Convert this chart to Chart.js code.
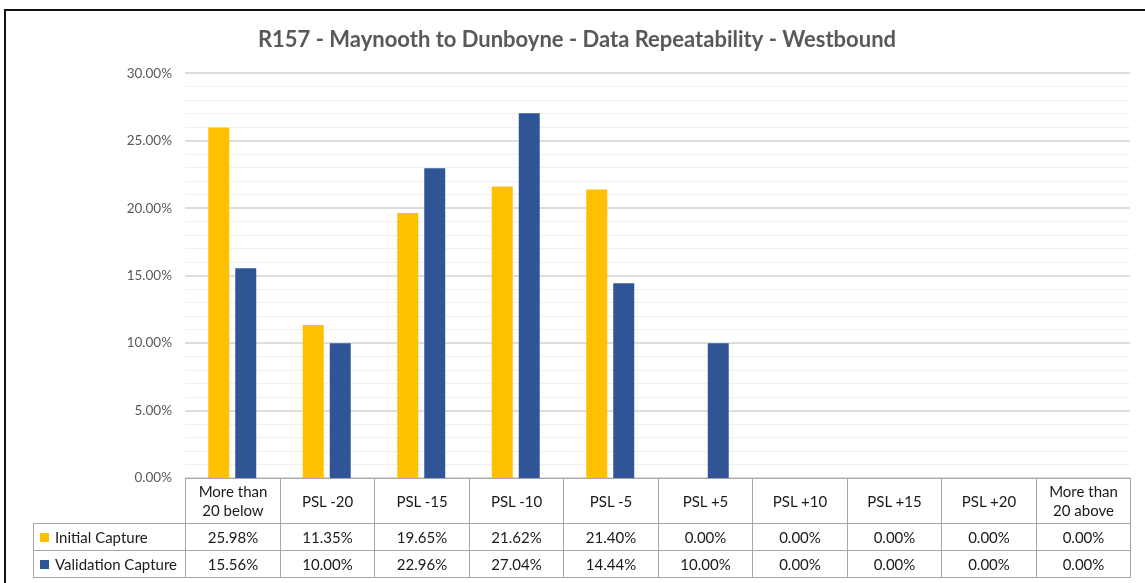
<!DOCTYPE html>
<html>
<head>
<meta charset="utf-8">
<script src="https://cdn.jsdelivr.net/npm/chart.js@4/dist/chart.umd.min.js"></script>
<style>
  html, body { margin: 0; padding: 0; background: #fff; width: 1145px; height: 583px; overflow: hidden; }
  #c { position: absolute; left: 0; top: 0; }
  #frame { position: absolute; left: 4px; top: 9px; width: 1300px; height: 800px;
           border-left: 2px solid #111; border-top: 2px solid #111; pointer-events: none; }
  #tbl { position: absolute; left: 0; top: 0; font-family: Lato, "Open Sans", sans-serif; font-size: 15px; color: #1a1a1a; }
  .cell { position: absolute; box-sizing: border-box; border: 1px solid #a6a6a6;
          display: flex; align-items: center; justify-content: center; text-align: center; line-height: 19px; }
  .lab { justify-content: flex-start; padding-left: 6px; }
  .key { width: 9px; height: 9px; margin-right: 6px; flex: none; }
</style>
</head>
<body>
<canvas id="c" width="1145" height="583"></canvas>
<div id="tbl"></div>
<div id="frame"></div>
<script>
// Categories of speed difference relative to the posted speed limit
const categories = [
  ["More than", "20 below"], "PSL -20", "PSL -15", "PSL -10", "PSL -5",
  "PSL +5", "PSL +10", "PSL +15", "PSL +20", ["More than", "20 above"]
];
// Share of records per category (percent)
const initialCapture    = [25.98, 11.35, 19.65, 21.62, 21.40, 0.00, 0.00, 0.00, 0.00, 0.00];
const validationCapture = [15.56, 10.00, 22.96, 27.04, 14.44, 10.00, 0.00, 0.00, 0.00, 0.00];
const seriesNames  = ["Initial Capture", "Validation Capture"];
const seriesColors = ["#FFC000", "#2F5597"];
const yTickMax = 30;
const yMajorStep = 5;

const FONT = 'Lato, "Open Sans", sans-serif';

// Data table under the plot, aligned to the category columns
const dataTable = {
  id: 'dataTable',
  afterRender(chart) {
    if (chart._tableDone) return;
    chart._tableDone = true;
    const host = document.getElementById('tbl');
    const area = chart.chartArea;
    const x = chart.scales.x;
    const colW = area.width / categories.length;
    const headH = 45, rowH = 27;
    const labelLeft = 33;
    const top = area.bottom;
    const mk = (l, t, w, h, html, cls) => {
      const d = document.createElement('div');
      d.className = 'cell' + (cls ? ' ' + cls : '');
      d.style.left = Math.round(l) + 'px';
      d.style.top = Math.round(t) + 'px';
      d.style.width = (Math.round(l + w) - Math.round(l) + 1) + 'px';
      d.style.height = (Math.round(t + h) - Math.round(t) + 1) + 'px';
      d.innerHTML = html;
      host.appendChild(d);
    };
    categories.forEach((c, i) => {
      const cx = x.getPixelForValue(i);
      const txt = Array.isArray(c) ? c.join('<br>') : c;
      mk(cx - colW / 2, top, colW, headH, txt);
    });
    const series = [initialCapture, validationCapture];
    series.forEach((vals, r) => {
      const y = top + headH + r * rowH;
      mk(labelLeft, y, area.left - labelLeft, rowH,
        '<span class="key" style="background:' + seriesColors[r] + '"></span>' + seriesNames[r], 'lab');
      vals.forEach((v, i) => {
        const cx = x.getPixelForValue(i);
        mk(cx - colW / 2, y, colW, rowH, v.toFixed(2) + '%');
      });
    });
  }
};

new Chart(document.getElementById('c'), {
  type: 'bar',
  data: {
    labels: categories,
    datasets: [
      { label: seriesNames[0], data: initialCapture, backgroundColor: seriesColors[0],
        categoryPercentage: 0.571, barPercentage: 0.778 },
      { label: seriesNames[1], data: validationCapture, backgroundColor: seriesColors[1],
        categoryPercentage: 0.571, barPercentage: 0.778 }
    ]
  },
  options: {
    responsive: false,
    animation: false,
    layout: { padding: { left: 10, right: 1, top: 0, bottom: 105 } },
    plugins: {
      legend: { display: false },
      tooltip: { enabled: false },
      title: {
        display: true,
        text: 'R157 - Maynooth to Dunboyne - Data Repeatability - Westbound',
        color: '#595959',
        font: { family: FONT, size: 22, weight: 'bold' },
        padding: { top: 27, bottom: 20 }
      }
    },
    scales: {
      x: { display: false },
      // blank margin on the right of the plot
      yRight: {
        position: 'right',
        display: true,
        grid: { display: false },
        border: { display: false },
        ticks: { display: false },
        afterFit(scale) { scale.width = 14; }
      },
      y: {
        min: 0, max: yTickMax,
        border: { display: false },
        afterFit(scale) { scale.width = 175; },
        grid: {
          drawTicks: false,
          color: ctx => (ctx.tick && ctx.tick.value % yMajorStep === 0) ? '#dedede' : '#f0f0f0',
          lineWidth: ctx => (ctx.tick && ctx.tick.value % yMajorStep === 0) ? 2 : 1
        },
        ticks: {
          stepSize: 1,
          autoSkip: false,
          padding: 13,
          color: '#595959',
          font: { family: FONT, size: 13.5 },
          callback: v => (v % yMajorStep === 0 ? v.toFixed(2) + '%' : '')
        }
      }
    }
  },
  plugins: [dataTable]
});
</script>
</body>
</html>
